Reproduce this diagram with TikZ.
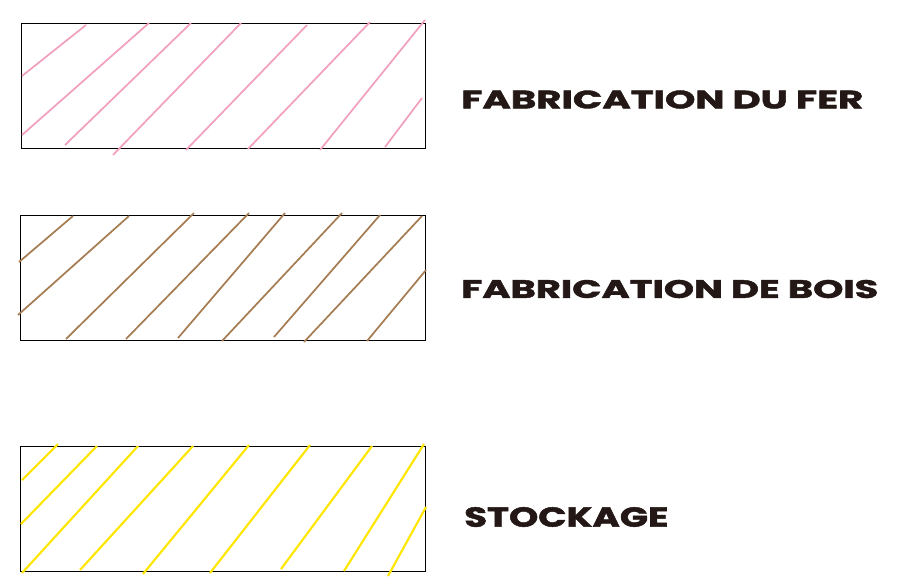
\documentclass[tikz,border=0pt]{standalone}
\usepackage{fontspec}
\setmainfont[BoldFeatures={FakeBold=1.6}]{Poppins}
\definecolor{ironpink}{RGB}{242,160,192}
\definecolor{woodbrown}{RGB}{166,124,82}
\definecolor{storeyellow}{RGB}{255,230,0}
\definecolor{labelink}{RGB}{35,24,21}
% label stretched to the width and cap height it has in the plan
\newcommand{\fitlabel}[3]{\resizebox{#1}{#2}{#3}}
\tikzset{
  zonebox/.style={draw=black, line width=0.75pt},
  hatch/.style={line width=1.3pt},
  zonelabel/.style={anchor=west, inner sep=0pt, text=labelink, font=\fontsize{19}{22}\selectfont\bfseries}
}
\begin{document}
\begin{tikzpicture}[x=0.75pt, y=-0.75pt]
    \useasboundingbox (0,0) rectangle (898,586);

    % Fabrication du fer
    \draw[zonebox] (21,23) rectangle (425,148);
    \foreach \xa/\ya/\xb/\yb in {22/76/86/25, 22/135/149/23, 65/145/191/23,
        113/155/241/23, 186/150/307/25, 248/149/370/22, 320/150/425/20, 385/147/422/98}
        \draw[hatch, ironpink] (\xa,\ya) -- (\xb,\yb);
    \node[zonelabel] (fer) at (461,99.5) {\fitlabel{301.5pt}{13.5pt}{FABRICATION DU FER}};

    % Fabrication de bois
    \draw[zonebox] (20,215) rectangle (425,340);
    \foreach \xa/\ya/\xb/\yb in {19/262/73/216, 18/315/129/216, 66/339/194/213,
        126/339/249/213, 178/338/285/213, 222/341/342/213, 274/337/380/215,
        304/342/422/216, 367/341/426/270}
        \draw[hatch, woodbrown] (\xa,\ya) -- (\xb,\yb);
    \node[zonelabel] (bois) at (461,289) {\fitlabel{312.75pt}{13.5pt}{FABRICATION DE BOIS}};

    % Stockage
    \draw[zonebox] (20,446) rectangle (425,571);
    \foreach \xa/\ya/\xb/\yb in {22/480/58/444, 21/524/97/446, 22/573/138/446,
        80/570/193/446, 143/574/249/445, 210/573/310/445, 281/569/372/446,
        344/571/424/444, 388/576/426/507}
        \draw[hatch, storeyellow, line width=1.6pt] (\xa,\ya) -- (\xb,\yb);
    \node[zonelabel] (stock) at (464,517) {\fitlabel{153pt}{14.7pt}{STOCKAGE}};
\end{tikzpicture}
\end{document}
